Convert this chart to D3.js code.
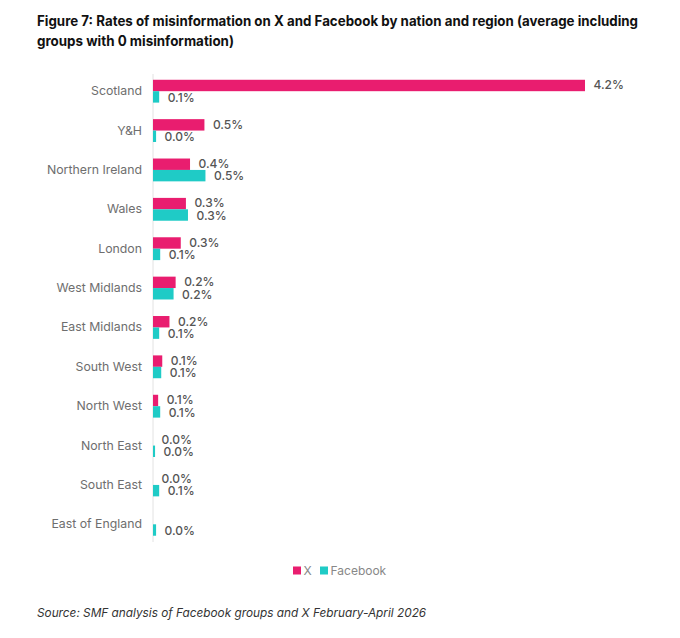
<!doctype html>

<meta charset="utf-8">
<title>Figure 7</title>

<style>
	body { margin: 0; background: #fff; }
	svg { display: block; font-family: Inter, "Noto Sans", sans-serif; }
</style>

<svg id="visual" width="680" height="638"></svg>

<script src="https://cdn.jsdelivr.net/npm/d3@7/dist/d3.min.js"></script>

<script>

// (data)
var regions = ["Scotland", "Y&H", "Northern Ireland", "Wales", "London", "West Midlands",
	"East Midlands", "South West", "North West", "North East", "South East", "East of England"];
var xRates = [4.2, 0.5, 0.36, 0.32, 0.27, 0.22, 0.16, 0.09, 0.05, 0, 0, null];
var facebookRates = [0.06, 0.03, 0.51, 0.34, 0.07, 0.2, 0.06, 0.08, 0.07, 0.02, 0.06, 0.03];
var seriesNames = ["X", "Facebook"];
var seriesColors = ["#e91d6f", "#1fcbc6"];

// (svg)
var svg = d3.select("#visual");

// (scales)
var x = d3.scaleLinear().domain([0, 4.2]).range([153, 585]);
var y = d3.scaleBand().domain(regions).range([71.5, 544]).paddingInner(0.42).paddingOuter(0.21);
var ySeries = d3.scaleBand().domain(seriesNames).range([0, y.bandwidth()]);
var color = d3.scaleOrdinal().domain(seriesNames).range(seriesColors);

var rows = regions.map(function(r, i) {
	return {region: r, values: [
		{series: "X", value: xRates[i]},
		{series: "Facebook", value: facebookRates[i]}
	]};
});

// (title)
svg.append("text")
	.attr("x", 37).attr("y", 26)
	.attr("font-size", "14px").attr("font-weight", 700).attr("fill", "#111")
	.selectAll("tspan")
	.data([
		{text: "Figure 7: Rates of misinformation on X and Facebook by nation and region (average including", w: 601},
		{text: "groups with 0 misinformation)", w: 197}
	])
	.enter().append("tspan")
	.attr("x", 37)
	.attr("dy", function(d, i) { return i ? 20 : 0; })
	.attr("textLength", function(d) { return d.w; })
	.attr("lengthAdjust", "spacingAndGlyphs")
	.text(function(d) { return d.text; });

// (axis line)
svg.append("line")
	.attr("x1", x(0)).attr("x2", x(0))
	.attr("y1", 74).attr("y2", 542)
	.attr("stroke", "#e2e2e2").attr("stroke-width", 1);

// (category labels)
var yAxis = svg.append("g")
	.attr("transform", "translate(" + (x(0) - 11) + ",0)")
	.call(d3.axisLeft(y).tickSize(0).tickPadding(0));
yAxis.select(".domain").remove();
yAxis.selectAll("text")
	.attr("font-family", "Inter, sans-serif")
	.attr("font-size", "12.3px")
	.attr("fill", "#6e6e6e");

// (bars)
var groups = svg.selectAll("g.row")
	.data(rows)
	.enter().append("g")
	.attr("class", "row")
	.attr("transform", function(d) { return "translate(0," + y(d.region) + ")"; });

var items = groups.selectAll("g.item")
	.data(function(d) { return d.values.filter(function(v) { return v.value !== null; }); })
	.enter().append("g")
	.attr("class", "item");

items.append("rect")
	.attr("x", x(0))
	.attr("y", function(d) { return ySeries(d.series); })
	.attr("width", function(d) { return x(d.value) - x(0); })
	.attr("height", ySeries.bandwidth())
	.attr("fill", function(d) { return color(d.series); });

items.append("text")
	.attr("x", function(d) { return x(d.value) + 8.5; })
	.attr("y", function(d) { return ySeries(d.series) + ySeries.bandwidth() / 2 + (d.series === "X" ? -0.5 : 0.5); })
	.attr("dy", "0.36em")
	.attr("font-size", "12px")
	.attr("font-weight", 500)
	.attr("fill", "#555")
	.text(function(d) { return d.value.toFixed(1) + "%"; });

// (legend)
var legend = svg.append("g").attr("transform", "translate(293,571)");
var legendItems = legend.selectAll("g")
	.data(seriesNames)
	.enter().append("g")
	.attr("transform", function(d, i) { return "translate(" + (i * 27) + ",0)"; });
legendItems.append("rect")
	.attr("x", 0).attr("y", -4.5)
	.attr("width", 8).attr("height", 8)
	.attr("fill", function(d) { return color(d); });
legendItems.append("text")
	.attr("x", 10.5).attr("dy", "0.35em")
	.attr("font-size", "12px").attr("fill", "#888")
	.text(function(d) { return d; });

// (source)
svg.append("text")
	.attr("x", 37).attr("y", 617)
	.attr("font-size", "11.8px").attr("font-style", "italic").attr("fill", "#333")
	.text("Source: SMF analysis of Facebook groups and X February-April 2026");

</script>
